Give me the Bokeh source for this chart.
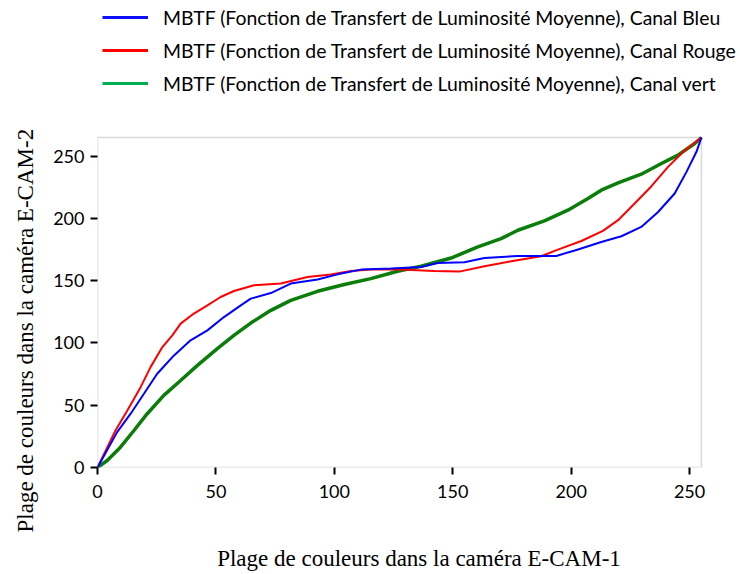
from bokeh.plotting import figure
from bokeh.models import Range1d, FixedTicker, Legend, LegendItem, BoxAnnotation, Title
from bokeh.embed import file_html
from bokeh.resources import INLINE

# Axis ticks
x_ticks = [0, 50, 100, 150, 200, 250]
y_ticks = [0, 50, 100, 150, 200, 250]

# Extent of the plotted box (data units)
x_max = 255
y_max = 265

# Series (input level in E-CAM-1 -> level in E-CAM-2)
blue_x = [0, 8.3, 14.0, 19.6, 25.2, 32.3, 39.3, 46.4, 53.4, 60.5, 64.7, 73.2, 81.6, 92.9,
          101.4, 111.2, 123.9, 136.6, 143.7, 154.9, 163.4, 177.5, 193.7, 202.9, 212.7,
          221.2, 229.6, 236.7, 243.7, 248.7, 252.9, 255]
blue_y = [0, 28.4, 43.2, 59.2, 75.3, 90.0, 102.1, 110.1, 120.8, 130.2, 135.6, 140.1, 147.7,
          150.9, 155.1, 158.9, 159.7, 161.0, 164.2, 164.8, 168.2, 169.9, 169.9, 175.0, 181.1,
          185.7, 193.2, 205.2, 220.0, 237.4, 253.5, 265]

red_x = [0, 7.6, 12.6, 18.2, 22.4, 27.4, 31.6, 35.1, 40.7, 46.4, 52.0, 57.6, 66.1, 77.4,
         88.7, 98.5, 107.0, 116.8, 128.1, 142.2, 152.8, 163.4, 174.7, 187.3, 194.4, 204.3,
         213.4, 219.8, 226.8, 233.9, 240.9, 248.0, 255]
red_y = [0, 29.7, 45.8, 64.5, 80.6, 96.7, 106.1, 115.5, 123.6, 130.2, 136.9, 141.7, 146.3,
         147.7, 153.0, 154.9, 157.8, 159.2, 158.9, 157.8, 157.3, 161.6, 165.6, 169.6, 175.0,
         181.9, 190.0, 198.6, 212.0, 225.9, 241.4, 254.8, 265]

green_x = [0, 4.1, 9.7, 15.4, 21.0, 28.0, 35.1, 42.2, 50.6, 57.6, 64.7, 73.2, 81.6, 92.9,
           104.2, 115.4, 126.7, 136.6, 149.3, 160.6, 170.4, 177.5, 188.7, 198.6, 207.1,
           212.7, 219.8, 229.6, 238.1, 245.1, 252.2, 255]
green_y = [0, 5.6, 16.3, 29.7, 43.2, 57.9, 69.9, 82.0, 95.4, 106.1, 116.0, 126.2, 134.2,
           141.5, 146.9, 151.7, 157.6, 161.6, 168.2, 177.1, 183.8, 190.5, 198.0, 206.6, 216.0,
           222.7, 228.5, 235.5, 244.1, 250.8, 260.2, 265]

labels = [
    "MBTF (Fonction de Transfert de Luminosité Moyenne), Canal Bleu",
    "MBTF (Fonction de Transfert de Luminosité Moyenne), Canal Rouge",
    "MBTF (Fonction de Transfert de Luminosité Moyenne), Canal vert",
]
x_label = "Plage de couleurs dans la caméra E-CAM-1"
y_label = "Plage de couleurs dans la caméra E-CAM-2"

# The view extends above and to the right of the box so the legend has room.
p = figure(width=740, height=574, output_backend="svg", toolbar_location=None,
           x_range=Range1d(0, 271.5), y_range=Range1d(0, 375),
           min_border_left=97, min_border_right=0, min_border_top=0, min_border_bottom=107)

p.xgrid.visible = False
p.ygrid.visible = False
p.outline_line_color = None

p.add_layout(BoxAnnotation(left=0, right=x_max, bottom=0, top=y_max,
                           fill_color=None, line_color="#808080", line_width=1.5,
                           level="underlay"))

for ax in (p.xaxis[0], p.yaxis[0]):
    ax.axis_line_color = None
    ax.major_tick_line_color = "black"
    ax.major_tick_line_width = 2
    ax.major_tick_out = 7
    ax.major_tick_in = 0
    ax.minor_tick_line_color = None
    ax.major_label_text_font = "Lato"
    ax.major_label_text_font_size = "18px"
    ax.major_label_text_color = "black"
    ax.axis_label_text_font = "Liberation Serif"
    ax.axis_label_text_font_size = "23px"
    ax.axis_label_text_font_style = "normal"
    ax.axis_label_text_color = "black"

p.xaxis.ticker = FixedTicker(ticks=x_ticks)
p.yaxis.ticker = FixedTicker(ticks=y_ticks)
p.xaxis.axis_label = x_label
p.xaxis.major_label_standoff = 10
p.yaxis.major_label_standoff = 6
p.xaxis.axis_label_standoff = 45

ytitle = Title(text=y_label, align="left", offset=-65, vertical_align="top", standoff=22,
               text_font="Liberation Serif", text_font_size="23px",
               text_font_style="normal", text_color="black")
p.add_layout(ytitle, "left")

p.line(green_x, green_y, line_color="#0a7d0a", line_width=3.5)
p.line(red_x, red_y, line_color="#ff0000", line_width=2)
p.line(blue_x, blue_y, line_color="#0000ff", line_width=2)

# legend swatches (single undefined point: nothing drawn in the chart)
nan = float("nan")
lb = p.line([nan], [nan], line_color="#1010ff", line_width=3)
lr = p.line([nan], [nan], line_color="#ff0000", line_width=3)
lg = p.line([nan], [nan], line_color="#00b050", line_width=3)

legend = Legend(items=[LegendItem(label=labels[0], renderers=[lb]),
                       LegendItem(label=labels[1], renderers=[lr]),
                       LegendItem(label=labels[2], renderers=[lg])],
                location=(5, 372), padding=0, margin=0, spacing=9,
                label_height=24, glyph_height=24, glyph_width=46, label_standoff=15,
                label_text_font="Lato", label_text_font_size="19.4px",
                label_text_color="black",
                border_line_color=None, background_fill_alpha=0)
p.add_layout(legend, "center")

open("out.html", "w").write(file_html(p, INLINE))
